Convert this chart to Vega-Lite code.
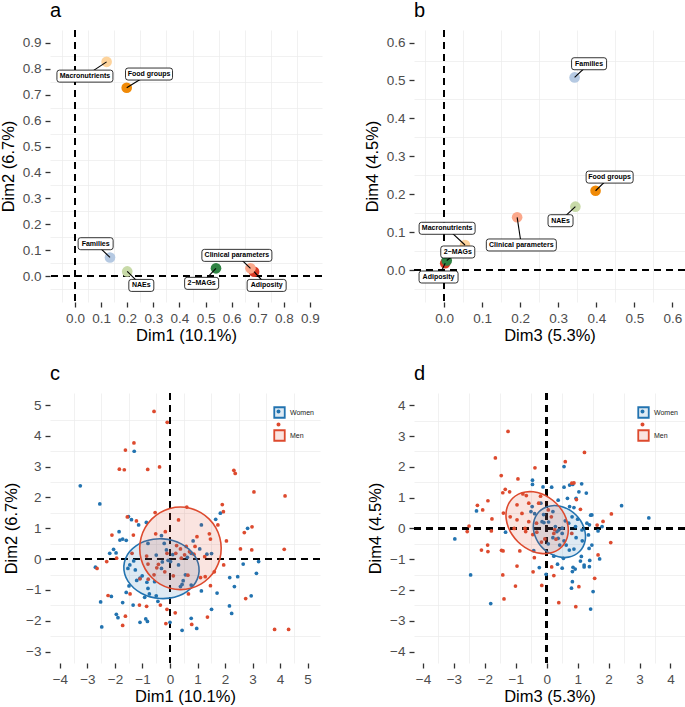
{
"$schema": "https://vega.github.io/schema/vega-lite/v6.json",
"background": "white",
"padding": {"left": 0, "top": 1, "right": 0, "bottom": 0},
"columns": 2,
"bounds": "flush",
"spacing": {"row": 91, "column": 92},
"resolve": {
 "scale": {"color": "independent", "fill": "independent", "stroke": "independent", "shape": "independent"},
 "legend": {"color": "independent", "fill": "independent", "stroke": "independent", "shape": "independent"}
},
"config": {
 "font": "Liberation Sans",
 "view": {"stroke": null},
 "axis": {"domain": false, "grid": true, "gridColor": "#EBEBEB", "gridWidth": 1.4, "labelFontSize": 13.5, "labelColor": "#4D4D4D", "titleFontSize": 16.5, "titleFontWeight": "normal", "titleColor": "#000000", "tickColor": "#333333", "tickSize": 5, "tickWidth": 1.3, "labelPadding": 4, "titlePadding": 3, "labelFlush": false, "labelOverlap": false, "labelBound": false},
 "axisY": {"titlePadding": 6},
 "title": {"anchor": "start", "frame": "group", "fontSize": 20, "fontWeight": "normal", "color": "#000000", "baseline": "alphabetic", "offset": 8}
},
"datasets": {
 "vars": [
  {"group":"Adiposity","Dim1":0.686,"Dim2":0.017,"labA1":0.734,"labA2":-0.036,"Dim3":0.003,"Dim4":0.018,"labB3":-0.0145,"labB4":-0.0185},
  {"group":"Clinical parameters","Dim1":0.672,"Dim2":0.030,"labA1":0.620,"labA2":0.080,"Dim3":0.192,"Dim4":0.139,"labB3":0.203,"labB4":0.066},
  {"group":"2−MAGs","Dim1":0.540,"Dim2":0.030,"labA1":0.485,"labA2":-0.028,"Dim3":0.007,"Dim4":0.025,"labB3":0.036,"labB4":0.0475},
  {"group":"Families","Dim1":0.134,"Dim2":0.072,"labA1":0.079,"labA2":0.125,"Dim3":0.343,"Dim4":0.508,"labB3":0.381,"labB4":0.544},
  {"group":"NAEs","Dim1":0.200,"Dim2":0.018,"labA1":0.254,"labA2":-0.036,"Dim3":0.345,"Dim4":0.167,"labB3":0.306,"labB4":0.130},
  {"group":"Macronutrients","Dim1":0.121,"Dim2":0.827,"labA1":0.038,"labA2":0.772,"Dim3":0.055,"Dim4":0.066,"labB3":0.008,"labB4":0.110},
  {"group":"Food groups","Dim1":0.198,"Dim2":0.727,"labA1":0.2835,"labA2":0.780,"Dim3":0.398,"Dim4":0.209,"labB3":0.435,"labB4":0.245}
 ],
 "ind_c": [
  {"sex":"Women","Dim1":-1.30,"Dim2":3.50},{"sex":"Women","Dim1":-3.26,"Dim2":2.38},{"sex":"Women","Dim1":-2.55,"Dim2":1.79},{"sex":"Women","Dim1":-1.51,"Dim2":1.38},{"sex":"Women","Dim1":-1.40,"Dim2":1.28},{"sex":"Women","Dim1":-0.86,"Dim2":1.19},{"sex":"Women","Dim1":1.66,"Dim2":1.29},{"sex":"Women","Dim1":1.83,"Dim2":1.49},
  {"sex":"Women","Dim1":-1.14,"Dim2":1.11},{"sex":"Women","Dim1":-1.85,"Dim2":0.89},{"sex":"Women","Dim1":-1.82,"Dim2":0.62},{"sex":"Women","Dim1":-1.72,"Dim2":0.65},{"sex":"Women","Dim1":-1.59,"Dim2":0.61},{"sex":"Women","Dim1":-0.31,"Dim2":0.76},{"sex":"Women","Dim1":-0.21,"Dim2":0.51},{"sex":"Women","Dim1":-0.80,"Dim2":0.51},{"sex":"Women","Dim1":0.84,"Dim2":0.59},{"sex":"Women","Dim1":1.14,"Dim2":1.11},{"sex":"Women","Dim1":2.82,"Dim2":1.00},{"sex":"Women","Dim1":-2.19,"Dim2":0.19},{"sex":"Women","Dim1":-2.05,"Dim2":0.32},{"sex":"Women","Dim1":-1.96,"Dim2":0.20},{"sex":"Women","Dim1":-2.71,"Dim2":-0.26},{"sex":"Women","Dim1":-2.13,"Dim2":-1.21},{"sex":"Women","Dim1":-2.52,"Dim2":-1.39},{"sex":"Women","Dim1":-1.72,"Dim2":-1.41},{"sex":"Women","Dim1":-1.34,"Dim2":-1.49},{"sex":"Women","Dim1":-1.21,"Dim2":-0.69},{"sex":"Women","Dim1":-1.59,"Dim2":-1.08},{"sex":"Women","Dim1":-1.49,"Dim2":-0.87},{"sex":"Women","Dim1":-1.53,"Dim2":-0.30},{"sex":"Women","Dim1":-1.26,"Dim2":-0.35},{"sex":"Women","Dim1":-1.09,"Dim2":-0.62},{"sex":"Women","Dim1":-1.01,"Dim2":-0.54},{"sex":"Women","Dim1":-0.84,"Dim2":-0.75},{"sex":"Women","Dim1":-0.80,"Dim2":-0.95},{"sex":"Women","Dim1":-0.75,"Dim2":-1.13},{"sex":"Women","Dim1":-0.56,"Dim2":-0.73},{"sex":"Women","Dim1":-0.50,"Dim2":-1.19},{"sex":"Women","Dim1":-0.92,"Dim2":-1.24},{"sex":"Women","Dim1":-0.44,"Dim2":-1.37},{"sex":"Women","Dim1":-0.28,"Dim2":-0.09},{"sex":"Women","Dim1":-0.31,"Dim2":-0.30},{"sex":"Women","Dim1":-0.07,"Dim2":-0.04},{"sex":"Women","Dim1":0.10,"Dim2":0.15},{"sex":"Women","Dim1":0.02,"Dim2":-0.08},{"sex":"Women","Dim1":0.48,"Dim2":-0.70},{"sex":"Women","Dim1":0.44,"Dim2":-0.82},{"sex":"Women","Dim1":0.38,"Dim2":-0.89},{"sex":"Women","Dim1":0.56,"Dim2":-0.51},{"sex":"Women","Dim1":0.77,"Dim2":-0.84},{"sex":"Women","Dim1":1.14,"Dim2":-1.03},{"sex":"Women","Dim1":1.71,"Dim2":-1.10},{"sex":"Women","Dim1":2.17,"Dim2":-0.60},{"sex":"Women","Dim1":2.46,"Dim2":-0.57},{"sex":"Women","Dim1":2.34,"Dim2":-0.89},{"sex":"Women","Dim1":2.66,"Dim2":-0.16},{"sex":"Women","Dim1":3.22,"Dim2":-0.08},{"sex":"Women","Dim1":3.14,"Dim2":-0.46},{"sex":"Women","Dim1":2.95,"Dim2":-1.19},{"sex":"Women","Dim1":2.16,"Dim2":-1.52},{"sex":"Women","Dim1":2.24,"Dim2":-1.76},{"sex":"Women","Dim1":1.51,"Dim2":-1.63},{"sex":"Women","Dim1":0.77,"Dim2":-1.92},{"sex":"Women","Dim1":0.97,"Dim2":-2.25},{"sex":"Women","Dim1":0.44,"Dim2":-2.31},{"sex":"Women","Dim1":0.00,"Dim2":-2.05},{"sex":"Women","Dim1":-1.09,"Dim2":-2.05},{"sex":"Women","Dim1":-0.88,"Dim2":-1.94},{"sex":"Women","Dim1":-0.82,"Dim2":-2.02},{"sex":"Women","Dim1":-1.95,"Dim2":-1.79},{"sex":"Women","Dim1":-1.89,"Dim2":-1.90},{"sex":"Women","Dim1":-2.48,"Dim2":-2.20},{"sex":"Women","Dim1":1.34,"Dim2":0.16},{"sex":"Women","Dim1":1.51,"Dim2":0.18},{"sex":"Women","Dim1":0.77,"Dim2":0.19},{"sex":"Women","Dim1":0.63,"Dim2":0.06},{"sex":"Women","Dim1":-1.32,"Dim2":-0.06},{"sex":"Women","Dim1":-1.46,"Dim2":-0.19},{"sex":"Women","Dim1":-0.13,"Dim2":0.30},{"sex":"Women","Dim1":-0.50,"Dim2":0.13},{"sex":"Women","Dim1":1.08,"Dim2":0.33},{"sex":"Women","Dim1":0.31,"Dim2":-0.19},
  {"sex":"Men","Dim1":-0.58,"Dim2":4.79},{"sex":"Men","Dim1":-0.10,"Dim2":4.44},{"sex":"Men","Dim1":-1.31,"Dim2":3.77},{"sex":"Men","Dim1":-1.62,"Dim2":3.54},{"sex":"Men","Dim1":-1.84,"Dim2":2.92},{"sex":"Men","Dim1":-1.66,"Dim2":2.90},{"sex":"Men","Dim1":-0.81,"Dim2":2.91},{"sex":"Men","Dim1":-0.38,"Dim2":2.99},{"sex":"Men","Dim1":2.32,"Dim2":2.88},{"sex":"Men","Dim1":2.37,"Dim2":2.78},{"sex":"Men","Dim1":3.05,"Dim2":2.18},{"sex":"Men","Dim1":4.18,"Dim2":2.05},{"sex":"Men","Dim1":1.90,"Dim2":1.77},{"sex":"Men","Dim1":1.94,"Dim2":1.54},{"sex":"Men","Dim1":0.61,"Dim2":1.69},{"sex":"Men","Dim1":-0.54,"Dim2":1.51},{"sex":"Men","Dim1":0.31,"Dim2":1.27},{"sex":"Men","Dim1":-1.55,"Dim2":1.37},{"sex":"Men","Dim1":-1.22,"Dim2":1.24},
  {"sex":"Men","Dim1":-2.11,"Dim2":0.78},{"sex":"Men","Dim1":-1.33,"Dim2":0.78},{"sex":"Men","Dim1":-0.52,"Dim2":0.82},{"sex":"Men","Dim1":-0.17,"Dim2":0.89},{"sex":"Men","Dim1":1.74,"Dim2":1.11},{"sex":"Men","Dim1":1.43,"Dim2":0.82},{"sex":"Men","Dim1":1.47,"Dim2":0.65},{"sex":"Men","Dim1":0.98,"Dim2":0.73},{"sex":"Men","Dim1":2.98,"Dim2":1.05},{"sex":"Men","Dim1":2.70,"Dim2":0.86},{"sex":"Men","Dim1":2.05,"Dim2":0.59},{"sex":"Men","Dim1":2.56,"Dim2":0.33},{"sex":"Men","Dim1":2.97,"Dim2":0.30},{"sex":"Men","Dim1":4.15,"Dim2":0.32},{"sex":"Men","Dim1":0.24,"Dim2":0.44},{"sex":"Men","Dim1":0.38,"Dim2":0.33},{"sex":"Men","Dim1":0.59,"Dim2":0.41},{"sex":"Men","Dim1":0.71,"Dim2":0.24},{"sex":"Men","Dim1":0.87,"Dim2":0.16},{"sex":"Men","Dim1":0.21,"Dim2":0.19},{"sex":"Men","Dim1":-0.11,"Dim2":0.19},{"sex":"Men","Dim1":-1.38,"Dim2":0.19},{"sex":"Men","Dim1":-2.30,"Dim2":-0.08},{"sex":"Men","Dim1":-2.65,"Dim2":-0.30},{"sex":"Men","Dim1":-1.94,"Dim2":0.03},{"sex":"Men","Dim1":-0.85,"Dim2":0.10},{"sex":"Men","Dim1":-0.42,"Dim2":-0.17},{"sex":"Men","Dim1":-0.48,"Dim2":-0.28},{"sex":"Men","Dim1":-0.80,"Dim2":-0.16},{"sex":"Men","Dim1":-0.19,"Dim2":-0.41},{"sex":"Men","Dim1":0.12,"Dim2":-0.54},{"sex":"Men","Dim1":0.65,"Dim2":-0.52},{"sex":"Men","Dim1":1.11,"Dim2":-0.60},{"sex":"Men","Dim1":1.28,"Dim2":-0.57},{"sex":"Men","Dim1":1.47,"Dim2":-0.86},{"sex":"Men","Dim1":1.61,"Dim2":-0.41},{"sex":"Men","Dim1":1.95,"Dim2":-0.19},{"sex":"Men","Dim1":0.67,"Dim2":-1.13},{"sex":"Men","Dim1":-1.45,"Dim2":-1.13},{"sex":"Men","Dim1":-2.25,"Dim2":-1.18},{"sex":"Men","Dim1":-1.09,"Dim2":-0.64},{"sex":"Men","Dim1":-0.79,"Dim2":-0.65},{"sex":"Men","Dim1":-1.11,"Dim2":-1.49},{"sex":"Men","Dim1":-0.85,"Dim2":-1.53},{"sex":"Men","Dim1":-0.35,"Dim2":-1.49},{"sex":"Men","Dim1":-0.11,"Dim2":-1.63},{"sex":"Men","Dim1":0.19,"Dim2":-1.74},{"sex":"Men","Dim1":-1.62,"Dim2":-1.85},{"sex":"Men","Dim1":-1.72,"Dim2":-2.15},{"sex":"Men","Dim1":-0.15,"Dim2":-2.09},{"sex":"Men","Dim1":0.79,"Dim2":-2.12},{"sex":"Men","Dim1":1.36,"Dim2":-1.88},{"sex":"Men","Dim1":2.75,"Dim2":-1.28},{"sex":"Men","Dim1":3.80,"Dim2":-2.28},{"sex":"Men","Dim1":4.31,"Dim2":-2.28},{"sex":"Men","Dim1":1.26,"Dim2":0.08},{"sex":"Men","Dim1":0.53,"Dim2":0.14},{"sex":"Men","Dim1":-0.58,"Dim2":-0.51},{"sex":"Men","Dim1":0.91,"Dim2":0.41},{"sex":"Men","Dim1":0.41,"Dim2":0.03}
 ],
 "ind_d": [
  {"sex":"Women","Dim3":0.56,"Dim4":2.01},{"sex":"Women","Dim3":-0.46,"Dim4":1.57},{"sex":"Women","Dim3":-0.46,"Dim4":1.43},{"sex":"Women","Dim3":-0.12,"Dim4":1.35},{"sex":"Women","Dim3":0.16,"Dim4":1.34},{"sex":"Women","Dim3":0.56,"Dim4":1.34},{"sex":"Women","Dim3":0.74,"Dim4":1.41},{"sex":"Women","Dim3":0.84,"Dim4":1.43},{"sex":"Women","Dim3":1.13,"Dim4":1.45},{"sex":"Women","Dim3":1.28,"Dim4":1.15},{"sex":"Women","Dim3":1.04,"Dim4":1.19},{"sex":"Women","Dim3":0.95,"Dim4":0.98},{"sex":"Women","Dim3":0.67,"Dim4":0.98},{"sex":"Women","Dim3":2.42,"Dim4":0.74},{"sex":"Women","Dim3":3.30,"Dim4":0.34},{"sex":"Women","Dim3":-2.27,"Dim4":0.57},{"sex":"Women","Dim3":1.46,"Dim4":0.44},{"sex":"Women","Dim3":0.74,"Dim4":0.71},{"sex":"Women","Dim3":0.88,"Dim4":0.68},{"sex":"Women","Dim3":0.37,"Dim4":0.92},
  {"sex":"Women","Dim3":-2.97,"Dim4":-0.34},{"sex":"Women","Dim3":-2.46,"Dim4":-1.51},{"sex":"Women","Dim3":-1.81,"Dim4":-2.44},{"sex":"Women","Dim3":-1.33,"Dim4":-0.12},{"sex":"Women","Dim3":-0.42,"Dim4":-0.72},{"sex":"Women","Dim3":-0.24,"Dim4":-1.27},{"sex":"Women","Dim3":-0.02,"Dim4":-1.49},{"sex":"Women","Dim3":0.23,"Dim4":-0.90},{"sex":"Women","Dim3":0.35,"Dim4":-1.16},{"sex":"Women","Dim3":0.50,"Dim4":-1.29},{"sex":"Women","Dim3":0.54,"Dim4":-0.97},{"sex":"Women","Dim3":0.63,"Dim4":-0.54},{"sex":"Women","Dim3":0.73,"Dim4":-0.70},{"sex":"Women","Dim3":0.88,"Dim4":-0.67},{"sex":"Women","Dim3":0.85,"Dim4":-1.26},{"sex":"Women","Dim3":0.83,"Dim4":-1.40},{"sex":"Women","Dim3":0.92,"Dim4":-1.32},{"sex":"Women","Dim3":1.09,"Dim4":-1.06},{"sex":"Women","Dim3":1.12,"Dim4":-0.91},{"sex":"Women","Dim3":1.21,"Dim4":-1.19},{"sex":"Women","Dim3":1.21,"Dim4":-1.25},{"sex":"Women","Dim3":1.38,"Dim4":-1.24},{"sex":"Women","Dim3":1.39,"Dim4":-1.04},{"sex":"Women","Dim3":1.71,"Dim4":-0.99},{"sex":"Women","Dim3":1.37,"Dim4":-0.65},{"sex":"Women","Dim3":1.46,"Dim4":-0.54},{"sex":"Women","Dim3":1.35,"Dim4":-0.21},{"sex":"Women","Dim3":0.83,"Dim4":-1.73},{"sex":"Women","Dim3":0.80,"Dim4":-1.94},{"sex":"Women","Dim3":1.50,"Dim4":-2.05},{"sex":"Women","Dim3":1.42,"Dim4":-2.62},{"sex":"Women","Dim3":0.37,"Dim4":-0.32},{"sex":"Women","Dim3":0.56,"Dim4":-0.40},{"sex":"Women","Dim3":0.50,"Dim4":0.01},{"sex":"Women","Dim3":0.33,"Dim4":-0.10},{"sex":"Women","Dim3":0.42,"Dim4":-0.54},
  {"sex":"Women","Dim3":-0.15,"Dim4":0.22},{"sex":"Women","Dim3":-0.09,"Dim4":0.19},{"sex":"Women","Dim3":0.06,"Dim4":0.21},{"sex":"Women","Dim3":0.28,"Dim4":0.06},{"sex":"Women","Dim3":0.39,"Dim4":-0.05},{"sex":"Women","Dim3":0.50,"Dim4":-0.16},{"sex":"Women","Dim3":0.71,"Dim4":0.17},{"sex":"Women","Dim3":0.93,"Dim4":0.06},{"sex":"Women","Dim3":0.82,"Dim4":0.38},{"sex":"Women","Dim3":1.14,"Dim4":-0.05},{"sex":"Women","Dim3":1.30,"Dim4":0.17},{"sex":"Women","Dim3":1.42,"Dim4":0.43},{"sex":"Women","Dim3":1.38,"Dim4":0.12},{"sex":"Women","Dim3":-0.19,"Dim4":0.82},{"sex":"Women","Dim3":-0.39,"Dim4":0.48},{"sex":"Women","Dim3":-0.47,"Dim4":0.71},{"sex":"Women","Dim3":-0.51,"Dim4":0.55},{"sex":"Women","Dim3":1.79,"Dim4":0.06},{"sex":"Women","Dim3":1.66,"Dim4":-0.08},{"sex":"Women","Dim3":0.05,"Dim4":-0.50},{"sex":"Women","Dim3":-0.10,"Dim4":0.45},{"sex":"Women","Dim3":0.20,"Dim4":0.55},{"sex":"Women","Dim3":0.60,"Dim4":0.25},{"sex":"Women","Dim3":1.00,"Dim4":0.30},{"sex":"Women","Dim3":0.95,"Dim4":-0.30},{"sex":"Women","Dim3":1.15,"Dim4":-0.40},{"sex":"Women","Dim3":0.20,"Dim4":-0.30},
  {"sex":"Men","Dim3":-1.25,"Dim4":3.15},{"sex":"Men","Dim3":1.22,"Dim4":2.47},{"sex":"Men","Dim3":-1.66,"Dim4":2.29},{"sex":"Men","Dim3":0.60,"Dim4":2.17},{"sex":"Men","Dim3":-0.38,"Dim4":1.97},{"sex":"Men","Dim3":-1.47,"Dim4":1.72},{"sex":"Men","Dim3":-0.93,"Dim4":1.61},{"sex":"Men","Dim3":-1.90,"Dim4":0.90},{"sex":"Men","Dim3":-1.34,"Dim4":1.27},{"sex":"Men","Dim3":-1.42,"Dim4":1.16},{"sex":"Men","Dim3":-1.20,"Dim4":1.19},{"sex":"Men","Dim3":-2.24,"Dim4":0.75},{"sex":"Men","Dim3":-2.07,"Dim4":0.60},{"sex":"Men","Dim3":-1.77,"Dim4":0.31},{"sex":"Men","Dim3":-1.40,"Dim4":0.50},{"sex":"Men","Dim3":-0.96,"Dim4":0.77},{"sex":"Men","Dim3":-0.77,"Dim4":1.12},{"sex":"Men","Dim3":-0.66,"Dim4":1.07},{"sex":"Men","Dim3":0.81,"Dim4":1.47},{"sex":"Men","Dim3":0.88,"Dim4":1.48},{"sex":"Men","Dim3":0.96,"Dim4":0.94},{"sex":"Men","Dim3":1.09,"Dim4":0.62},{"sex":"Men","Dim3":1.63,"Dim4":0.11},{"sex":"Men","Dim3":1.82,"Dim4":0.23},{"sex":"Men","Dim3":2.09,"Dim4":0.47},{"sex":"Men","Dim3":-2.51,"Dim4":0.08},
  {"sex":"Men","Dim3":-2.57,"Dim4":-0.10},{"sex":"Men","Dim3":-1.79,"Dim4":-0.08},{"sex":"Men","Dim3":-2.11,"Dim4":-0.70},{"sex":"Men","Dim3":-1.91,"Dim4":-0.54},{"sex":"Men","Dim3":-1.90,"Dim4":-0.75},{"sex":"Men","Dim3":-1.46,"Dim4":-0.71},{"sex":"Men","Dim3":-1.41,"Dim4":-0.73},{"sex":"Men","Dim3":-0.87,"Dim4":-0.73},{"sex":"Men","Dim3":-0.96,"Dim4":-1.22},{"sex":"Men","Dim3":-1.42,"Dim4":-1.51},{"sex":"Men","Dim3":-1.01,"Dim4":-1.87},{"sex":"Men","Dim3":-1.38,"Dim4":-2.29},{"sex":"Men","Dim3":-0.44,"Dim4":-1.41},{"sex":"Men","Dim3":-0.16,"Dim4":-1.85},{"sex":"Men","Dim3":-0.40,"Dim4":-0.95},{"sex":"Men","Dim3":-0.32,"Dim4":-0.12},{"sex":"Men","Dim3":-0.06,"Dim4":-0.34},{"sex":"Men","Dim3":0.16,"Dim4":-1.25},{"sex":"Men","Dim3":0.23,"Dim4":-1.53},{"sex":"Men","Dim3":0.39,"Dim4":-2.41},{"sex":"Men","Dim3":0.94,"Dim4":-2.54},{"sex":"Men","Dim3":1.04,"Dim4":-1.89},{"sex":"Men","Dim3":1.55,"Dim4":-1.62},{"sex":"Men","Dim3":1.66,"Dim4":-0.86},{"sex":"Men","Dim3":2.07,"Dim4":-0.46},{"sex":"Men","Dim3":-0.68,"Dim4":-0.10},{"sex":"Men","Dim3":0.26,"Dim4":-0.04},{"sex":"Men","Dim3":0.81,"Dim4":-0.16},
  {"sex":"Men","Dim3":-0.58,"Dim4":0.82},{"sex":"Men","Dim3":-0.80,"Dim4":0.49},{"sex":"Men","Dim3":-0.96,"Dim4":0.28},{"sex":"Men","Dim3":-1.18,"Dim4":0.38},{"sex":"Men","Dim3":-0.58,"Dim4":0.22},{"sex":"Men","Dim3":-0.33,"Dim4":0.17},{"sex":"Men","Dim3":-0.26,"Dim4":0.82},{"sex":"Men","Dim3":0.15,"Dim4":0.38},{"sex":"Men","Dim3":0.23,"Dim4":-0.16},{"sex":"Men","Dim3":-0.17,"Dim4":-0.44},{"sex":"Men","Dim3":-0.70,"Dim4":0.00},{"sex":"Men","Dim3":-1.05,"Dim4":0.00},{"sex":"Men","Dim3":-0.45,"Dim4":-0.20},{"sex":"Men","Dim3":0.05,"Dim4":0.60},{"sex":"Men","Dim3":-0.20,"Dim4":1.05},{"sex":"Men","Dim3":0.30,"Dim4":-0.35}
 ],
 "ell_c": [
  {"sex":"Women","i":0,"Dim1":1.057,"Dim2":-0.392},{"sex":"Women","i":1,"Dim1":1.025,"Dim2":-0.138},{"sex":"Women","i":2,"Dim1":0.903,"Dim2":0.103},{"sex":"Women","i":3,"Dim1":0.697,"Dim2":0.316},{"sex":"Women","i":4,"Dim1":0.424,"Dim2":0.487},{"sex":"Women","i":5,"Dim1":0.100,"Dim2":0.604},{"sex":"Women","i":6,"Dim1":-0.252,"Dim2":0.658},{"sex":"Women","i":7,"Dim1":-0.608,"Dim2":0.646},{"sex":"Women","i":8,"Dim1":-0.944,"Dim2":0.569},{"sex":"Women","i":9,"Dim1":-1.235,"Dim2":0.432},{"sex":"Women","i":10,"Dim1":-1.465,"Dim2":0.245},{"sex":"Women","i":11,"Dim1":-1.615,"Dim2":0.020},{"sex":"Women","i":12,"Dim1":-1.677,"Dim2":-0.228},{"sex":"Women","i":13,"Dim1":-1.645,"Dim2":-0.482},{"sex":"Women","i":14,"Dim1":-1.523,"Dim2":-0.723},{"sex":"Women","i":15,"Dim1":-1.317,"Dim2":-0.936},{"sex":"Women","i":16,"Dim1":-1.044,"Dim2":-1.107},{"sex":"Women","i":17,"Dim1":-0.720,"Dim2":-1.224},{"sex":"Women","i":18,"Dim1":-0.368,"Dim2":-1.278},{"sex":"Women","i":19,"Dim1":-0.012,"Dim2":-1.266},{"sex":"Women","i":20,"Dim1":0.324,"Dim2":-1.189},{"sex":"Women","i":21,"Dim1":0.615,"Dim2":-1.052},{"sex":"Women","i":22,"Dim1":0.845,"Dim2":-0.865},{"sex":"Women","i":23,"Dim1":0.995,"Dim2":-0.640},
  {"sex":"Men","i":0,"Dim1":1.86,"Dim2":0.35},{"sex":"Men","i":1,"Dim1":1.81,"Dim2":0.697},{"sex":"Men","i":2,"Dim1":1.662,"Dim2":1.02},{"sex":"Men","i":3,"Dim1":1.426,"Dim2":1.297},{"sex":"Men","i":4,"Dim1":1.12,"Dim2":1.51},{"sex":"Men","i":5,"Dim1":0.763,"Dim2":1.644},{"sex":"Men","i":6,"Dim1":0.38,"Dim2":1.69},{"sex":"Men","i":7,"Dim1":-0.003,"Dim2":1.644},{"sex":"Men","i":8,"Dim1":-0.36,"Dim2":1.51},{"sex":"Men","i":9,"Dim1":-0.666,"Dim2":1.297},{"sex":"Men","i":10,"Dim1":-0.902,"Dim2":1.02},{"sex":"Men","i":11,"Dim1":-1.05,"Dim2":0.697},{"sex":"Men","i":12,"Dim1":-1.10,"Dim2":0.35},{"sex":"Men","i":13,"Dim1":-1.05,"Dim2":0.003},{"sex":"Men","i":14,"Dim1":-0.902,"Dim2":-0.32},{"sex":"Men","i":15,"Dim1":-0.666,"Dim2":-0.597},{"sex":"Men","i":16,"Dim1":-0.36,"Dim2":-0.81},{"sex":"Men","i":17,"Dim1":-0.003,"Dim2":-0.944},{"sex":"Men","i":18,"Dim1":0.38,"Dim2":-0.99},{"sex":"Men","i":19,"Dim1":0.763,"Dim2":-0.944},{"sex":"Men","i":20,"Dim1":1.12,"Dim2":-0.81},{"sex":"Men","i":21,"Dim1":1.426,"Dim2":-0.597},{"sex":"Men","i":22,"Dim1":1.662,"Dim2":-0.32},{"sex":"Men","i":23,"Dim1":1.81,"Dim2":0.003}
 ],
 "ell_d": [
  {"sex":"Women","i":0,"Dim3":1.060,"Dim4":-0.750},{"sex":"Women","i":1,"Dim3":1.177,"Dim4":-0.589},{"sex":"Women","i":2,"Dim3":1.242,"Dim4":-0.394},{"sex":"Women","i":3,"Dim3":1.250,"Dim4":-0.180},{"sex":"Women","i":4,"Dim3":1.200,"Dim4":0.040},{"sex":"Women","i":5,"Dim3":1.097,"Dim4":0.251},{"sex":"Women","i":6,"Dim3":0.947,"Dim4":0.437},{"sex":"Women","i":7,"Dim3":0.761,"Dim4":0.587},{"sex":"Women","i":8,"Dim3":0.550,"Dim4":0.690},{"sex":"Women","i":9,"Dim3":0.330,"Dim4":0.740},{"sex":"Women","i":10,"Dim3":0.116,"Dim4":0.732},{"sex":"Women","i":11,"Dim3":-0.079,"Dim4":0.667},{"sex":"Women","i":12,"Dim3":-0.240,"Dim4":0.550},{"sex":"Women","i":13,"Dim3":-0.357,"Dim4":0.389},{"sex":"Women","i":14,"Dim3":-0.422,"Dim4":0.194},{"sex":"Women","i":15,"Dim3":-0.430,"Dim4":-0.020},{"sex":"Women","i":16,"Dim3":-0.380,"Dim4":-0.240},{"sex":"Women","i":17,"Dim3":-0.277,"Dim4":-0.451},{"sex":"Women","i":18,"Dim3":-0.127,"Dim4":-0.637},{"sex":"Women","i":19,"Dim3":0.059,"Dim4":-0.787},{"sex":"Women","i":20,"Dim3":0.270,"Dim4":-0.890},{"sex":"Women","i":21,"Dim3":0.490,"Dim4":-0.940},{"sex":"Women","i":22,"Dim3":0.704,"Dim4":-0.932},{"sex":"Women","i":23,"Dim3":0.899,"Dim4":-0.867},
  {"sex":"Men","i":0,"Dim3":0.482,"Dim4":-0.602},{"sex":"Men","i":1,"Dim3":0.616,"Dim4":-0.414},{"sex":"Men","i":2,"Dim3":0.687,"Dim4":-0.185},{"sex":"Men","i":3,"Dim3":0.690,"Dim4":0.070},{"sex":"Men","i":4,"Dim3":0.625,"Dim4":0.333},{"sex":"Men","i":5,"Dim3":0.496,"Dim4":0.586},{"sex":"Men","i":6,"Dim3":0.312,"Dim4":0.812},{"sex":"Men","i":7,"Dim3":0.086,"Dim4":0.996},{"sex":"Men","i":8,"Dim3":-0.167,"Dim4":1.125},{"sex":"Men","i":9,"Dim3":-0.430,"Dim4":1.190},{"sex":"Men","i":10,"Dim3":-0.685,"Dim4":1.187},{"sex":"Men","i":11,"Dim3":-0.914,"Dim4":1.116},{"sex":"Men","i":12,"Dim3":-1.102,"Dim4":0.982},{"sex":"Men","i":13,"Dim3":-1.236,"Dim4":0.794},{"sex":"Men","i":14,"Dim3":-1.307,"Dim4":0.565},{"sex":"Men","i":15,"Dim3":-1.310,"Dim4":0.310},{"sex":"Men","i":16,"Dim3":-1.245,"Dim4":0.047},{"sex":"Men","i":17,"Dim3":-1.116,"Dim4":-0.206},{"sex":"Men","i":18,"Dim3":-0.932,"Dim4":-0.432},{"sex":"Men","i":19,"Dim3":-0.706,"Dim4":-0.616},{"sex":"Men","i":20,"Dim3":-0.453,"Dim4":-0.745},{"sex":"Men","i":21,"Dim3":-0.190,"Dim4":-0.810},{"sex":"Men","i":22,"Dim3":0.065,"Dim4":-0.807},{"sex":"Men","i":23,"Dim3":0.294,"Dim4":-0.736}
 ]
},
"concat": [
 {
  "width": 272, "height": 272,
  "title": {"text": "a"},
  "data": {"name": "vars"},
  "resolve": {"axis": {"x": "independent", "y": "independent"}},
  "layer": [
   {"mark": {"type": "rule", "color": "black", "strokeWidth": 1.5, "strokeDash": [7, 5]},
    "encoding": {"x": {"datum": 0, "type": "quantitative", "scale": {"domain": [-0.0958, 0.946], "nice": false, "zero": false},
     "axis": {"orient": "bottom", "values": [-0.05,0.05,0.15,0.25,0.35,0.45,0.55,0.65,0.75,0.85], "labels": false, "ticks": false, "title": null, "gridWidth": 0.7}}}},
   {"mark": {"type": "rule", "color": "black", "strokeWidth": 1.5, "strokeDash": [7, 5]},
    "encoding": {"y": {"datum": 0, "type": "quantitative", "scale": {"domain": [-0.1, 0.95], "nice": false, "zero": false},
     "axis": {"orient": "left", "values": [-0.05,0.05,0.15,0.25,0.35,0.45,0.55,0.65,0.75,0.85], "labels": false, "ticks": false, "title": null, "gridWidth": 0.7}}}},
   {"mark": {"type": "point", "filled": true, "size": 113, "opacity": 1},
    "encoding": {
     "x": {"field": "Dim1", "type": "quantitative", "scale": {"domain": [-0.0958, 0.946], "nice": false, "zero": false},
      "axis": {"orient": "bottom", "title": "Dim1 (10.1%)", "values": [0,0.1,0.2,0.3,0.4,0.5,0.6,0.7,0.8,0.9], "format": ".1f"}},
     "y": {"field": "Dim2", "type": "quantitative", "scale": {"domain": [-0.1, 0.95], "nice": false, "zero": false},
      "axis": {"orient": "left", "title": "Dim2 (6.7%)", "values": [0,0.1,0.2,0.3,0.4,0.5,0.6,0.7,0.8,0.9], "format": ".1f"}},
     "color": {"field": "group", "type": "nominal", "legend": null,
      "scale": {"domain": ["Adiposity","Clinical parameters","2−MAGs","Families","NAEs","Macronutrients","Food groups"], "range": ["#D93A25","#FBA88B","#2F8343","#B5C9E2","#C8DAA8","#FDD39C","#F08A07"]}}}},
   {"mark": {"type": "rule", "color": "black", "strokeWidth": 1.1},
    "encoding": {
     "x": {"field": "Dim1", "type": "quantitative", "scale": {"domain": [-0.0958, 0.946], "nice": false, "zero": false}, "axis": null},
     "y": {"field": "Dim2", "type": "quantitative", "scale": {"domain": [-0.1, 0.95], "nice": false, "zero": false}, "axis": null},
     "x2": {"field": "labA1"}, "y2": {"field": "labA2"}}},
   {"mark": {"type": "point", "filled": true, "fill": "white", "stroke": "black", "strokeWidth": 0.8, "size": 4, "opacity": 1},
    "encoding": {
     "x": {"field": "labA1", "type": "quantitative", "scale": {"domain": [-0.0958, 0.946], "nice": false, "zero": false}, "axis": null},
     "y": {"field": "labA2", "type": "quantitative", "scale": {"domain": [-0.1, 0.95], "nice": false, "zero": false}, "axis": null},
     "shape": {"field": "group", "type": "nominal", "legend": null,
      "scale": {"domain": ["Adiposity","Clinical parameters","2−MAGs","Families","NAEs","Macronutrients","Food groups"],
       "range": ["M-17,-6H17Q19.5,-6,19.5,-3.5V3.5Q19.5,6,17,6H-17Q-19.5,6,-19.5,3.5V-3.5Q-19.5,-6,-17,-6Z",
                 "M-32.5,-6H32.5Q35,-6,35,-3.5V3.5Q35,6,32.5,6H-32.5Q-35,6,-35,3.5V-3.5Q-35,-6,-32.5,-6Z",
                 "M-14.5,-6H14.5Q17,-6,17,-3.5V3.5Q17,6,14.5,6H-14.5Q-17,6,-17,3.5V-3.5Q-17,-6,-14.5,-6Z",
                 "M-15,-6H15Q17.5,-6,17.5,-3.5V3.5Q17.5,6,15,6H-15Q-17.5,6,-17.5,3.5V-3.5Q-17.5,-6,-15,-6Z",
                 "M-10,-6H10Q12.5,-6,12.5,-3.5V3.5Q12.5,6,10,6H-10Q-12.5,6,-12.5,3.5V-3.5Q-12.5,-6,-10,-6Z",
                 "M-25.5,-6H25.5Q28,-6,28,-3.5V3.5Q28,6,25.5,6H-25.5Q-28,6,-28,3.5V-3.5Q-28,-6,-25.5,-6Z",
                 "M-21,-6H21Q23.5,-6,23.5,-3.5V3.5Q23.5,6,21,6H-21Q-23.5,6,-23.5,3.5V-3.5Q-23.5,-6,-21,-6Z"]}}}},
   {"mark": {"type": "text", "fontSize": 7, "fontWeight": "bold", "color": "black"},
    "encoding": {
     "x": {"field": "labA1", "type": "quantitative", "scale": {"domain": [-0.0958, 0.946], "nice": false, "zero": false}, "axis": null},
     "y": {"field": "labA2", "type": "quantitative", "scale": {"domain": [-0.1, 0.95], "nice": false, "zero": false}, "axis": null},
     "text": {"field": "group"}}}
  ]
 },
 {
  "width": 271, "height": 272,
  "title": {"text": "b"},
  "data": {"name": "vars"},
  "resolve": {"axis": {"x": "independent", "y": "independent"}},
  "layer": [
   {"mark": {"type": "rule", "color": "black", "strokeWidth": 1.5, "strokeDash": [7, 5]},
    "encoding": {"x": {"datum": 0, "type": "quantitative", "scale": {"domain": [-0.079, 0.633], "nice": false, "zero": false},
     "axis": {"orient": "bottom", "values": [-0.05,0.05,0.15,0.25,0.35,0.45,0.55], "labels": false, "ticks": false, "title": null, "gridWidth": 0.7}}}},
   {"mark": {"type": "rule", "color": "black", "strokeWidth": 1.5, "strokeDash": [7, 5]},
    "encoding": {"y": {"datum": 0, "type": "quantitative", "scale": {"domain": [-0.0844, 0.633], "nice": false, "zero": false},
     "axis": {"orient": "left", "values": [-0.05,0.05,0.15,0.25,0.35,0.45,0.55], "labels": false, "ticks": false, "title": null, "gridWidth": 0.7}}}},
   {"mark": {"type": "point", "filled": true, "size": 113, "opacity": 1},
    "encoding": {
     "x": {"field": "Dim3", "type": "quantitative", "scale": {"domain": [-0.079, 0.633], "nice": false, "zero": false},
      "axis": {"orient": "bottom", "title": "Dim3 (5.3%)", "values": [0,0.1,0.2,0.3,0.4,0.5,0.6], "format": ".1f"}},
     "y": {"field": "Dim4", "type": "quantitative", "scale": {"domain": [-0.0844, 0.633], "nice": false, "zero": false},
      "axis": {"orient": "left", "title": "Dim4 (4.5%)", "values": [0,0.1,0.2,0.3,0.4,0.5,0.6], "format": ".1f"}},
     "color": {"field": "group", "type": "nominal", "legend": null,
      "scale": {"domain": ["Adiposity","Clinical parameters","2−MAGs","Families","NAEs","Macronutrients","Food groups"], "range": ["#D93A25","#FBA88B","#2F8343","#B5C9E2","#C8DAA8","#FDD39C","#F08A07"]}}}},
   {"mark": {"type": "rule", "color": "black", "strokeWidth": 1.1},
    "encoding": {
     "x": {"field": "Dim3", "type": "quantitative", "scale": {"domain": [-0.079, 0.633], "nice": false, "zero": false}, "axis": null},
     "y": {"field": "Dim4", "type": "quantitative", "scale": {"domain": [-0.0844, 0.633], "nice": false, "zero": false}, "axis": null},
     "x2": {"field": "labB3"}, "y2": {"field": "labB4"}}},
   {"mark": {"type": "point", "filled": true, "fill": "white", "stroke": "black", "strokeWidth": 0.8, "size": 4, "opacity": 1},
    "encoding": {
     "x": {"field": "labB3", "type": "quantitative", "scale": {"domain": [-0.079, 0.633], "nice": false, "zero": false}, "axis": null},
     "y": {"field": "labB4", "type": "quantitative", "scale": {"domain": [-0.0844, 0.633], "nice": false, "zero": false}, "axis": null},
     "shape": {"field": "group", "type": "nominal", "legend": null,
      "scale": {"domain": ["Adiposity","Clinical parameters","2−MAGs","Families","NAEs","Macronutrients","Food groups"],
       "range": ["M-17,-6H17Q19.5,-6,19.5,-3.5V3.5Q19.5,6,17,6H-17Q-19.5,6,-19.5,3.5V-3.5Q-19.5,-6,-17,-6Z",
                 "M-32.5,-6H32.5Q35,-6,35,-3.5V3.5Q35,6,32.5,6H-32.5Q-35,6,-35,3.5V-3.5Q-35,-6,-32.5,-6Z",
                 "M-14.5,-6H14.5Q17,-6,17,-3.5V3.5Q17,6,14.5,6H-14.5Q-17,6,-17,3.5V-3.5Q-17,-6,-14.5,-6Z",
                 "M-15,-6H15Q17.5,-6,17.5,-3.5V3.5Q17.5,6,15,6H-15Q-17.5,6,-17.5,3.5V-3.5Q-17.5,-6,-15,-6Z",
                 "M-10,-6H10Q12.5,-6,12.5,-3.5V3.5Q12.5,6,10,6H-10Q-12.5,6,-12.5,3.5V-3.5Q-12.5,-6,-10,-6Z",
                 "M-25.5,-6H25.5Q28,-6,28,-3.5V3.5Q28,6,25.5,6H-25.5Q-28,6,-28,3.5V-3.5Q-28,-6,-25.5,-6Z",
                 "M-21,-6H21Q23.5,-6,23.5,-3.5V3.5Q23.5,6,21,6H-21Q-23.5,6,-23.5,3.5V-3.5Q-23.5,-6,-21,-6Z"]}}}},
   {"mark": {"type": "text", "fontSize": 7, "fontWeight": "bold", "color": "black"},
    "encoding": {
     "x": {"field": "labB3", "type": "quantitative", "scale": {"domain": [-0.079, 0.633], "nice": false, "zero": false}, "axis": null},
     "y": {"field": "labB4", "type": "quantitative", "scale": {"domain": [-0.0844, 0.633], "nice": false, "zero": false}, "axis": null},
     "text": {"field": "group"}}}
  ]
 },
 {
  "width": 270, "height": 270,
  "title": {"text": "c"},
  "resolve": {"axis": {"x": "independent", "y": "independent"}},
  "layer": [
   {"data": {"name": "ind_c"}, "mark": {"type": "rule", "color": "black", "strokeWidth": 1.5, "strokeDash": [7, 5]},
    "encoding": {"x": {"datum": 0, "type": "quantitative", "scale": {"domain": [-4.36, 5.45], "nice": false, "zero": false},
     "axis": {"orient": "bottom", "values": [-3.5,-2.5,-1.5,-0.5,0.5,1.5,2.5,3.5,4.5], "labels": false, "ticks": false, "title": null, "gridWidth": 0.7}}}},
   {"data": {"name": "ind_c"}, "mark": {"type": "rule", "color": "black", "strokeWidth": 1.5, "strokeDash": [7, 5]},
    "encoding": {"y": {"datum": 0, "type": "quantitative", "scale": {"domain": [-3.37, 5.39], "nice": false, "zero": false},
     "axis": {"orient": "left", "values": [-2.5,-1.5,-0.5,0.5,1.5,2.5,3.5,4.5], "labels": false, "ticks": false, "title": null, "gridWidth": 0.7}}}},
   {"data": {"name": "ind_c"}, "mark": {"type": "point", "filled": true, "size": 14, "opacity": 1},
    "encoding": {
     "x": {"field": "Dim1", "type": "quantitative", "scale": {"domain": [-4.36, 5.45], "nice": false, "zero": false},
      "axis": {"orient": "bottom", "title": "Dim1 (10.1%)", "values": [-4,-3,-2,-1,0,1,2,3,4,5], "format": "d"}},
     "y": {"field": "Dim2", "type": "quantitative", "scale": {"domain": [-3.37, 5.39], "nice": false, "zero": false},
      "axis": {"orient": "left", "title": "Dim2 (6.7%)", "values": [-3,-2,-1,0,1,2,3,4,5], "format": "d"}},
     "color": {"field": "sex", "type": "nominal", "sort": ["Women","Men"], "scale": {"range": ["#2273B0","#DD4A2E"]},
      "legend": {"orient": "none", "legendX": 223, "legendY": 13, "title": null, "padding": 0, "rowPadding": 4, "labelFontSize": 7, "labelOffset": 4, "symbolSize": 110, "symbolType": "M-0.38,0A0.38,0.38,0,1,0,0.38,0A0.38,0.38,0,1,0,-0.38,0Z", "symbolStrokeWidth": 0, "labelExpr": "''", "labelOpacity": 0}}}},
   {"data": {"name": "ell_c"}, "mark": {"type": "line", "interpolate": "cardinal-closed", "strokeWidth": 1.6},
    "encoding": {
     "x": {"field": "Dim1", "type": "quantitative", "scale": {"domain": [-4.36, 5.45], "nice": false, "zero": false}, "axis": null},
     "y": {"field": "Dim2", "type": "quantitative", "scale": {"domain": [-3.37, 5.39], "nice": false, "zero": false}, "axis": null},
     "order": {"field": "i", "type": "quantitative"},
     "stroke": {"field": "sex", "type": "nominal", "scale": {"domain": ["Women","Men"], "range": ["#2273B0","#DD4A2E"]},
      "legend": {"orient": "none", "legendX": 223, "legendY": 13, "title": null, "padding": 0, "rowPadding": 4, "labelFontSize": 7, "labelOffset": 4, "symbolSize": 110, "symbolType": "square", "symbolStrokeWidth": 1.8, "labelColor": "#222222"}},
     "fill": {"field": "sex", "type": "nominal", "scale": {"domain": ["Women","Men"], "range": ["rgba(34,115,176,0.15)","rgba(221,74,46,0.15)"]},
      "legend": {"orient": "none", "legendX": 223, "legendY": 13, "title": null, "padding": 0, "rowPadding": 4, "labelFontSize": 7, "labelOffset": 4, "symbolSize": 110, "symbolType": "square", "symbolStrokeWidth": 1.8, "labelColor": "#222222"}}}}
  ]
 },
 {
  "width": 271, "height": 270,
  "title": {"text": "d"},
  "resolve": {"axis": {"x": "independent", "y": "independent"}},
  "layer": [
   {"data": {"name": "ind_d"}, "mark": {"type": "rule", "color": "black", "strokeWidth": 1.5, "strokeDash": [7, 5]},
    "encoding": {"x": {"datum": 0, "type": "quantitative", "scale": {"domain": [-4.29, 4.47], "nice": false, "zero": false},
     "axis": {"orient": "bottom", "values": [-3.5,-2.5,-1.5,-0.5,0.5,1.5,2.5,3.5], "labels": false, "ticks": false, "title": null, "gridWidth": 0.7}}}},
   {"data": {"name": "ind_d"}, "mark": {"type": "rule", "color": "black", "strokeWidth": 1.5, "strokeDash": [7, 5]},
    "encoding": {"y": {"datum": 0, "type": "quantitative", "scale": {"domain": [-4.37, 4.40], "nice": false, "zero": false},
     "axis": {"orient": "left", "values": [-3.5,-2.5,-1.5,-0.5,0.5,1.5,2.5,3.5], "labels": false, "ticks": false, "title": null, "gridWidth": 0.7}}}},
   {"data": {"name": "ind_d"}, "mark": {"type": "point", "filled": true, "size": 14, "opacity": 1},
    "encoding": {
     "x": {"field": "Dim3", "type": "quantitative", "scale": {"domain": [-4.29, 4.47], "nice": false, "zero": false},
      "axis": {"orient": "bottom", "title": "Dim3 (5.3%)", "values": [-4,-3,-2,-1,0,1,2,3,4], "format": "d"}},
     "y": {"field": "Dim4", "type": "quantitative", "scale": {"domain": [-4.37, 4.40], "nice": false, "zero": false},
      "axis": {"orient": "left", "title": "Dim4 (4.5%)", "values": [-4,-3,-2,-1,0,1,2,3,4], "format": "d"}},
     "color": {"field": "sex", "type": "nominal", "sort": ["Women","Men"], "scale": {"range": ["#2273B0","#DD4A2E"]},
      "legend": {"orient": "none", "legendX": 223, "legendY": 13, "title": null, "padding": 0, "rowPadding": 4, "labelFontSize": 7, "labelOffset": 4, "symbolSize": 110, "symbolType": "M-0.38,0A0.38,0.38,0,1,0,0.38,0A0.38,0.38,0,1,0,-0.38,0Z", "symbolStrokeWidth": 0, "labelExpr": "''", "labelOpacity": 0}}}},
   {"data": {"name": "ell_d"}, "mark": {"type": "line", "interpolate": "cardinal-closed", "strokeWidth": 1.6},
    "encoding": {
     "x": {"field": "Dim3", "type": "quantitative", "scale": {"domain": [-4.29, 4.47], "nice": false, "zero": false}, "axis": null},
     "y": {"field": "Dim4", "type": "quantitative", "scale": {"domain": [-4.37, 4.40], "nice": false, "zero": false}, "axis": null},
     "order": {"field": "i", "type": "quantitative"},
     "stroke": {"field": "sex", "type": "nominal", "scale": {"domain": ["Women","Men"], "range": ["#2273B0","#DD4A2E"]},
      "legend": {"orient": "none", "legendX": 223, "legendY": 13, "title": null, "padding": 0, "rowPadding": 4, "labelFontSize": 7, "labelOffset": 4, "symbolSize": 110, "symbolType": "square", "symbolStrokeWidth": 1.8, "labelColor": "#222222"}},
     "fill": {"field": "sex", "type": "nominal", "scale": {"domain": ["Women","Men"], "range": ["rgba(34,115,176,0.15)","rgba(221,74,46,0.15)"]},
      "legend": {"orient": "none", "legendX": 223, "legendY": 13, "title": null, "padding": 0, "rowPadding": 4, "labelFontSize": 7, "labelOffset": 4, "symbolSize": 110, "symbolType": "square", "symbolStrokeWidth": 1.8, "labelColor": "#222222"}}}}
  ]
 }
]
}
